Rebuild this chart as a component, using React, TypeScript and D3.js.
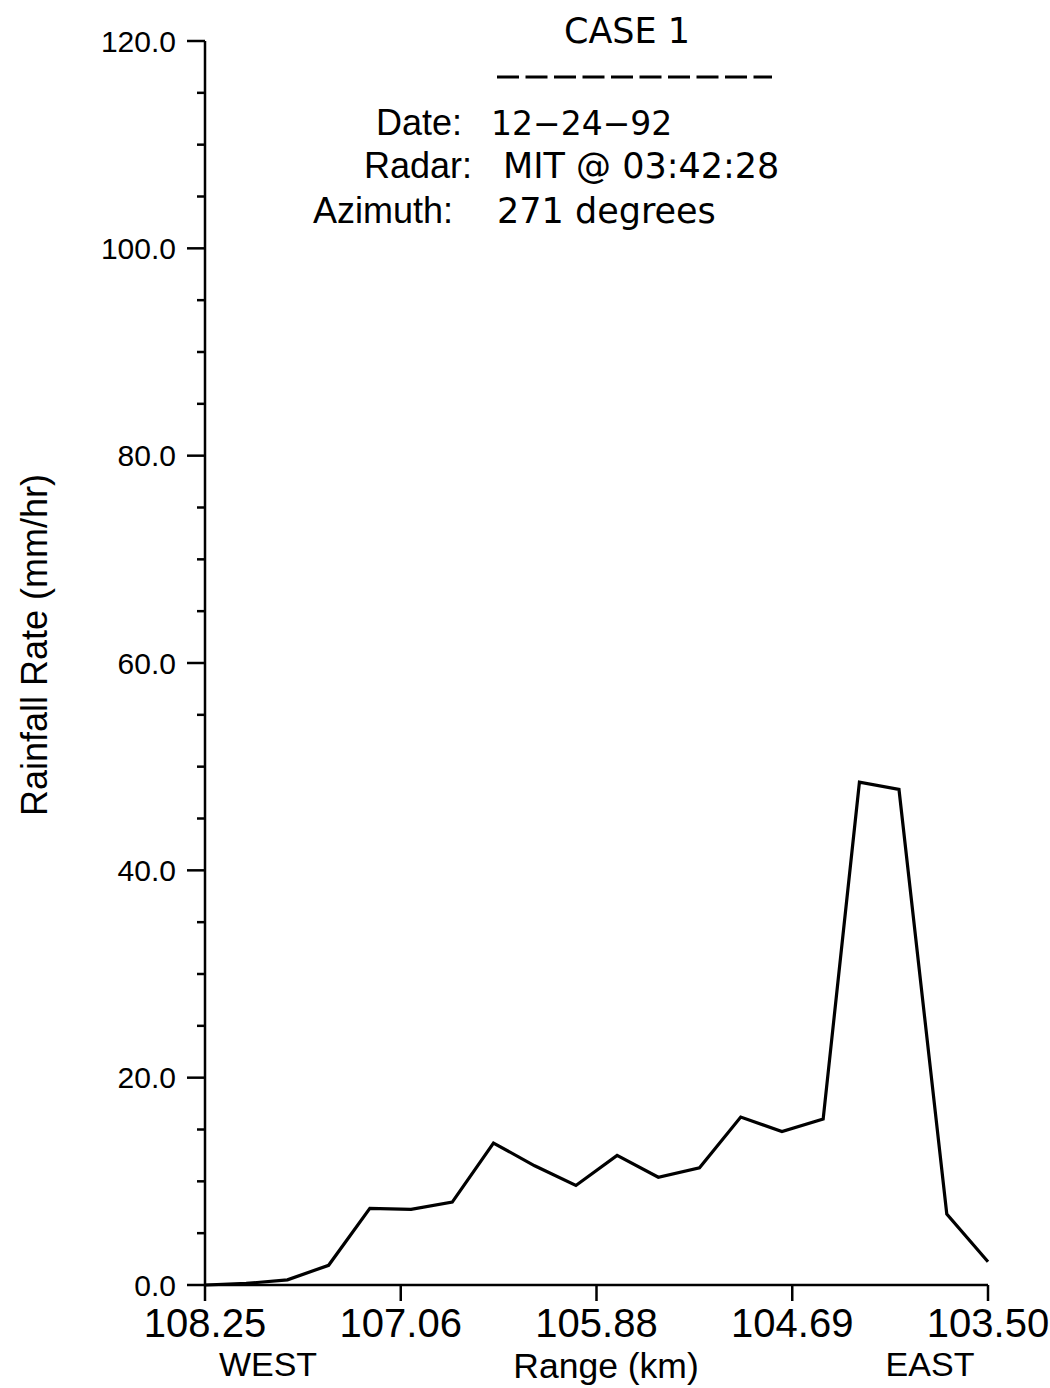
import React from "react";
import * as d3 from "d3";

const rangeKm: number[] = [108.25, 108.0, 107.75, 107.5, 107.25, 107.0, 106.75, 106.5, 106.25, 106.0, 105.75, 105.5, 105.25, 105.0, 104.75, 104.5, 104.28, 104.04, 103.75, 103.5];
const rainRate: number[] = [0, 0.15, 0.5, 1.9, 7.4, 7.3, 8.0, 13.7, 11.5, 9.6, 12.5, 10.4, 11.3, 16.2, 14.8, 16.0, 48.5, 47.8, 6.85, 2.25];

const xTickValues: number[] = [108.25, 107.0625, 105.875, 104.6875, 103.5];
const xTickLabels: string[] = ["108.25", "107.06", "105.88", "104.69", "103.50"];
const yMajorTicks: number[] = [0, 20, 40, 60, 80, 100, 120];
const yMinorTicks: number[] = d3.range(0, 121, 5).filter((v) => v % 20 !== 0);

const titleLines = [
  { label: "Date:", value: "12\u221224\u221292", lx: 462, vx: 491, y: 135, fs: 33 },
  { label: "Radar:", value: "MIT @ 03:42:28", lx: 472, vx: 503, y: 178, fs: 35 },
  { label: "Azimuth:", value: "271 degrees", lx: 453, vx: 497, y: 223, fs: 35 },
];

const LIB = "'Liberation Sans', Arial, sans-serif";
const DJV = "'DejaVu Sans', sans-serif";

export default function App() {
  const x = d3.scaleLinear().domain([108.25, 103.5]).range([205, 988]);
  const y = d3.scaleLinear().domain([0, 120]).range([1285, 41]);
  const pts = rangeKm.map((r, i) => [r, rainRate[i]] as [number, number]);
  const line = d3
    .line<[number, number]>()
    .x((d) => x(d[0]))
    .y((d) => y(d[1]));

  const x0 = x.range()[0];
  const y0 = y.range()[0];

  return (
    <svg
      width={1050}
      height={1388}
      style={{ position: "absolute", left: 0, top: 0, background: "#fff" }}
      fontFamily={LIB}
    >
      <rect x={0} y={0} width={1050} height={1388} fill="#fff" />
      {/* Title block */}
      <text x={627} y={43} fontSize={35} textAnchor="middle" fill="#000" fontFamily={DJV}>
        CASE 1
      </text>
      <line x1={497} x2={772} y1={77} y2={77} stroke="#000" strokeWidth={3} strokeDasharray="22 6.5" />
      {titleLines.map((t) => (
        <g key={t.label}>
          <text x={t.lx} y={t.y} fontSize={36} textAnchor="end" fill="#000">
            {t.label}
          </text>
          <text x={t.vx} y={t.y} fontSize={t.fs} fill="#000" fontFamily={DJV}>
            {t.value}
          </text>
        </g>
      ))}

      {/* Y axis */}
      <line x1={x0} x2={x0} y1={y(0)} y2={y(120)} stroke="#000" strokeWidth={2.5} />
      {yMajorTicks.map((v) => (
        <g key={"M" + v}>
          <line x1={x0 - 18} x2={x0} y1={y(v)} y2={y(v)} stroke="#000" strokeWidth={2.5} />
          <text x={176} y={y(v)} dy="0.36em" fontSize={30} textAnchor="end" fill="#000">
            {v.toFixed(1)}
          </text>
        </g>
      ))}
      {yMinorTicks.map((v) => (
        <line key={"m" + v} x1={x0 - 8} x2={x0} y1={y(v)} y2={y(v)} stroke="#000" strokeWidth={2.5} />
      ))}
      <text
        transform={`translate(47,645) rotate(-90)`}
        fontSize={36}
        textAnchor="middle"
        fill="#000"
      >
        Rainfall Rate (mm/hr)
      </text>

      {/* X axis */}
      <line x1={x0} x2={x(103.5)} y1={y0} y2={y0} stroke="#000" strokeWidth={2.5} />
      {xTickValues.map((v, i) => (
        <g key={"x" + i}>
          <line x1={x(v)} x2={x(v)} y1={y0} y2={y0 + 16} stroke="#000" strokeWidth={2.5} />
          <text x={x(v)} y={1337} fontSize={40} textAnchor="middle" fill="#000">
            {xTickLabels[i]}
          </text>
        </g>
      ))}
      <text x={268} y={1376} fontSize={34} textAnchor="middle" fill="#000">
        WEST
      </text>
      <text x={606} y={1378} fontSize={35.5} textAnchor="middle" fill="#000">
        Range (km)
      </text>
      <text x={930} y={1376} fontSize={34} textAnchor="middle" fill="#000">
        EAST
      </text>

      {/* Data line */}
      <path d={line(pts) || ""} fill="none" stroke="#000" strokeWidth={3.2} strokeLinejoin="miter" />
    </svg>
  );
}
